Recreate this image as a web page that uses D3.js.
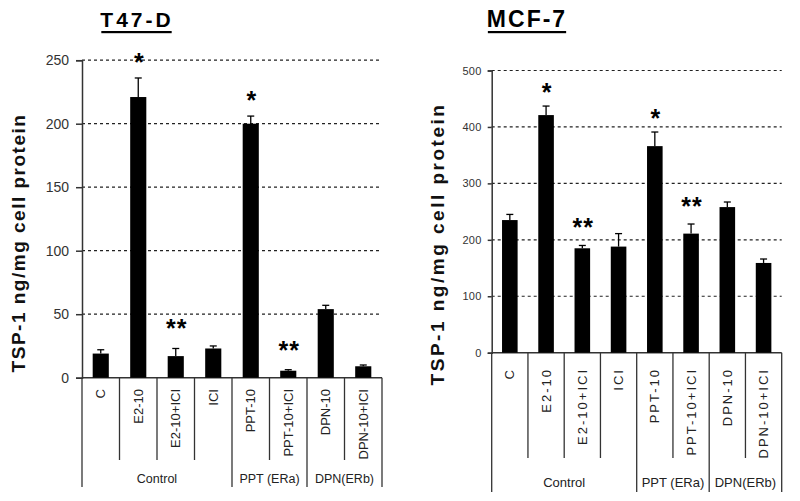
<!DOCTYPE html>
<html><head><meta charset="utf-8">
<script src="https://cdn.jsdelivr.net/npm/d3@7/dist/d3.min.js"></script>
<style>body{margin:0;background:#fff}svg{display:block}text{font-family:Arial,"Liberation Sans",sans-serif}</style>
</head><body>
<svg id="c" width="800" height="501"></svg>
<script>
const categories = ["C","E2-10","E2-10+ICI","ICI","PPT-10","PPT-10+ICI","DPN-10","DPN-10+ICI"];
const groups = [{name:"Control",from:0,to:4},{name:"PPT (ERa)",from:4,to:6},{name:"DPN(ERb)",from:6,to:8}];
const t47Values = [19, 221, 17, 23, 200, 5.5, 54, 9];
const t47Errors = [3, 15, 6, 2, 6, 0.8, 3, 1];
const t47Stars  = ["", "*", "**", "", "*", "**", "", ""];
const t47Ticks  = [0, 50, 100, 150, 200, 250];
const mcfValues = [235, 421, 185, 188, 366, 211, 258, 159];
const mcfErrors = [10, 16, 5, 23, 25, 17, 9, 7];
const mcfStars  = ["", "*", "**", "", "*", "**", "", ""];
const mcfTicks  = [0, 100, 200, 300, 400, 500];
const yLabel = "TSP-1 ng/mg cell protein";

const svg = d3.select("#c");

function panel(o){
  const g = svg.append("g");
  const x = d3.scaleBand().domain(categories).range([o.x0, o.x1]).padding(0);
  const y = d3.scaleLinear().domain([0, o.ymax]).range([o.y0, o.y1]);
  const bw = x.bandwidth()*0.43;

  // title
  const t = g.append("text").attr("x", o.titleX).attr("y", 27).attr("text-anchor","middle")
    .attr("font-weight","bold").attr("font-size", o.titleSize).attr("letter-spacing", o.titleLS)
    .attr("fill","#000").text(o.title);
  const bb = t.node().getBBox();
  g.append("rect").attr("x", bb.x+1).attr("y", 31).attr("width", bb.width - o.titleLS).attr("height", 2.2).attr("fill","#000");

  // gridlines
  g.selectAll(".grid").data(o.ticks.filter(d=>d>0)).enter().append("line")
    .attr("x1", o.x0).attr("x2", o.x1).attr("y1", d=>y(d)).attr("y2", d=>y(d))
    .attr("stroke","#222").attr("stroke-width",1.2).attr("stroke-dasharray","3,3");

  // y axis
  const ax = d3.axisLeft(y).tickValues(o.ticks).tickSize(o.tickLen).tickPadding(o.tickPad).tickFormat(d3.format("d"));
  const ag = g.append("g").attr("transform",`translate(${o.x0},0)`).call(ax);
  ag.select(".domain").attr("stroke","#333").attr("stroke-width",1.5);
  ag.selectAll(".tick line").attr("stroke","#333").attr("stroke-width",1.5);
  ag.selectAll(".tick text").attr("font-size", o.tickSize).attr("fill","#333")
    .attr("font-family","Arial, 'Liberation Sans', sans-serif").attr("letter-spacing", o.tickLS);

  // x axis line
  g.append("line").attr("x1",o.x0).attr("x2",o.x1).attr("y1",y(0)).attr("y2",y(0)).attr("stroke","#333").attr("stroke-width",1.5);

  // bars
  g.selectAll(".bar").data(o.values).enter().append("rect")
    .attr("x",(d,i)=>x(categories[i])+x.bandwidth()/2-bw/2).attr("width",bw)
    .attr("y",d=>y(d)).attr("height",d=>y(0)-y(d)).attr("fill","#000");

  // error bars
  const eb = g.selectAll(".err").data(o.values).enter().append("g");
  eb.append("line").attr("x1",(d,i)=>x(categories[i])+x.bandwidth()/2).attr("x2",(d,i)=>x(categories[i])+x.bandwidth()/2)
    .attr("y1",d=>y(d)).attr("y2",(d,i)=>y(d+o.errors[i])).attr("stroke","#000").attr("stroke-width",1.3);
  eb.append("line").attr("x1",(d,i)=>x(categories[i])+x.bandwidth()/2-3.5).attr("x2",(d,i)=>x(categories[i])+x.bandwidth()/2+3.5)
    .attr("y1",(d,i)=>y(d+o.errors[i])).attr("y2",(d,i)=>y(d+o.errors[i])).attr("stroke","#000").attr("stroke-width",1.3);

  // stars
  g.selectAll(".star").data(o.stars).enter().append("text")
    .attr("x",(d,i)=>x(categories[i])+x.bandwidth()/2 + 1)
    .attr("y",(d,i)=>y(o.values[i]+o.errors[i]) - (d.length>1?o.starOff2:o.starOff1) + 14)
    .attr("text-anchor","middle").attr("font-size",25).attr("font-weight","bold").attr("letter-spacing",1).text(d=>d);

  // category separators
  const bounds = d3.range(categories.length+1);
  const groupEdges = new Set(groups.flatMap(gr=>[gr.from,gr.to]));
  g.selectAll(".sep").data(bounds).enter().append("line")
    .attr("x1",i=> i<categories.length ? x(categories[i]) : o.x1).attr("x2",i=> i<categories.length ? x(categories[i]) : o.x1)
    .attr("y1",y(0)).attr("y2",i=> groupEdges.has(i) ? o.longBottom : o.shortBottom)
    .attr("stroke","#333").attr("stroke-width",1.3);

  // category labels (rotated)
  g.selectAll(".cl").data(categories).enter().append("text")
    .attr("transform",d=>`translate(${x(d)+x.bandwidth()/2+4.5},${o.labTop}) rotate(-90)`)
    .attr("text-anchor","end").attr("font-size",o.catSize).attr("letter-spacing",o.catLS).attr("fill","#222").text(d=>d);

  // group labels
  g.selectAll(".gl").data(groups).enter().append("text")
    .attr("x",d=>((d.from<categories.length?x(categories[d.from]):o.x1)+(d.to<categories.length?x(categories[d.to]):o.x1))/2)
    .attr("y",o.groupY).attr("text-anchor","middle").attr("font-size",o.groupSize).attr("letter-spacing",o.groupLS)
    .attr("fill","#222").text(d=>d.name);

  // y label
  g.append("text").attr("transform",`translate(${o.ylabX},${o.ylabY}) rotate(-90)`)
    .attr("text-anchor","middle").attr("font-weight","bold").attr("font-size",19).attr("letter-spacing",o.ylabLS)
    .attr("fill","#111").text(yLabel);
}

panel({x0:82, x1:382, y0:377.7, y1:60.2, ymax:250, ticks:t47Ticks, values:t47Values, errors:t47Errors, stars:t47Stars,
  title:"T47-D", titleX:137, titleSize:21, titleLS:3, tickLen:6, tickPad:7, tickSize:14, tickLS:0,
  starOff1:21, starOff2:25, shortBottom:460, longBottom:487, labTop:389, catSize:13, catLS:0,
  groupY:483, groupSize:12.5, groupLS:0, ylabX:25, ylabY:243, ylabLS:1.5});

panel({x0:491.7, x1:781.7, y0:352.7, y1:70.5, ymax:500, ticks:mcfTicks, values:mcfValues, errors:mcfErrors, stars:mcfStars,
  title:"MCF-7", titleX:527, titleSize:23, titleLS:2, tickLen:4, tickPad:6, tickSize:11, tickLS:0.3,
  starOff1:19, starOff2:23, shortBottom:458, longBottom:492, labTop:368, catSize:13, catLS:2,
  groupY:487, groupSize:13, groupLS:0, ylabX:444, ylabY:244, ylabLS:2.5});
</script>
</body></html>
